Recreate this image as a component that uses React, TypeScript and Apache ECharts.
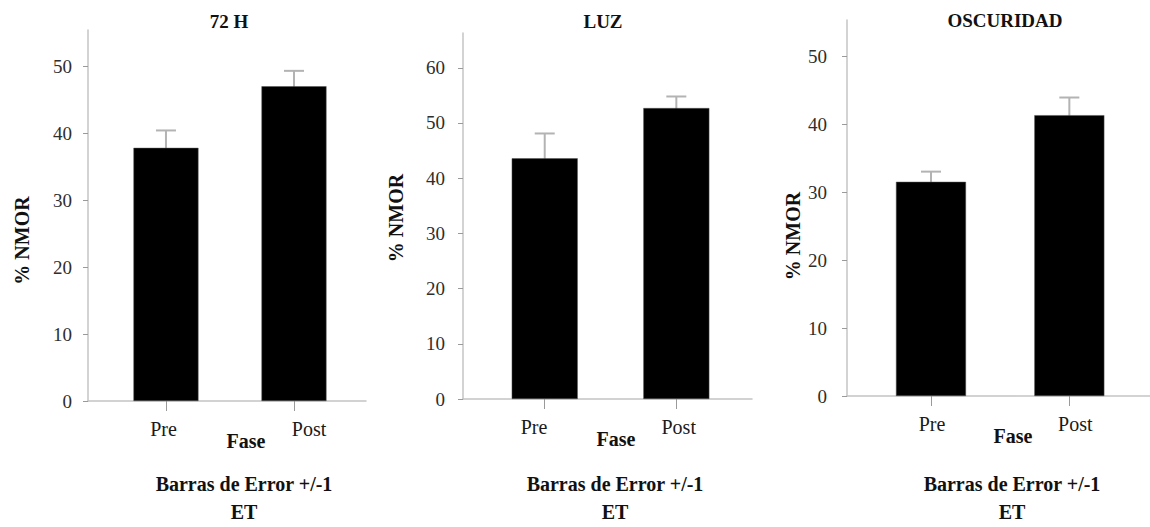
import React, { useEffect, useRef } from "react";
import * as echarts from "echarts";

// Data: mean % NMOR per phase, with +/-1 standard error (ET)
const panelTitles = ["72 H", "LUZ", "OSCURIDAD"];
const categories = ["Pre", "Post"];
const means72h = [37.8, 47.0];
const se72h = [2.6, 2.3];
const meansLuz = [43.6, 52.7];
const seLuz = [4.5, 2.1];
const meansOscuridad = [31.5, 41.3];
const seOscuridad = [1.5, 2.6];
const ticks72h = [0, 10, 20, 30, 40, 50];
const ticksLuz = [0, 10, 20, 30, 40, 50, 60];
const ticksOscuridad = [0, 10, 20, 30, 40, 50];
const yAxisName = "% NMOR";
const xAxisName = "Fase";
const footnote = "Barras de Error +/-1\nET";

const FONT = "'Liberation Serif', 'Times New Roman', serif";
const AXIS_GRAY = "#c4c4c4";
const TICK_GRAY = "#9a9a9a";
const ERR_GRAY = "#b3b3b3";

// Panel layout (pixels) and per-panel axis extents
const panels = [
  {
    means: means72h, se: se72h, ticks: ticks72h, yMax: 55.4,
    left: 88, top: 30, width: 278, height: 371,
    xMin: -0.609, xMax: 1.5625, barWidth: 65,
    labelShift: [-2.5, 15], nameGap: 56, nameShift: 25, faseShift: 19,
    labelMargin: 16, titleX: 229, titleY: 22, footX: 244,
  },
  {
    means: meansLuz, se: seLuz, ticks: ticksLuz, yMax: 66.3,
    left: 463, top: 33, width: 289, height: 366,
    xMin: -0.621, xMax: 1.575, barWidth: 66,
    labelShift: [-10.7, 2.4], nameGap: 57, nameShift: 2, faseShift: 8.5,
    labelMargin: 18, titleX: 603, titleY: 22, footX: 615,
  },
  {
    means: meansOscuridad, se: seOscuridad, ticks: ticksOscuridad, yMax: 55.3,
    left: 847, top: 20, width: 303, height: 376,
    xMin: -0.607, xMax: 1.583, barWidth: 70,
    labelShift: [1, 6], nameGap: 44, nameShift: 28, faseShift: 14.5,
    labelMargin: 20, titleX: 1005, titleY: 21, footX: 1012,
  },
];

const shiftPadding = (dx: number) =>
  dx >= 0 ? [0, 0, 0, 2 * dx] : [0, -2 * dx, 0, 0];

function buildOption() {
  const grid: any[] = [];
  const xAxis: any[] = [];
  const yAxis: any[] = [];
  const series: any[] = [];
  const title: any[] = [];

  panels.forEach((p, i) => {
    grid.push({ left: p.left, top: p.top, width: p.width, height: p.height });

    const rich: any = {};
    categories.forEach((c, k) => {
      rich["c" + k] = {
        fontFamily: FONT,
        fontSize: 20,
        color: "#1a1a1a",
        padding: shiftPadding(p.labelShift[k]),
      };
    });

    xAxis.push({
      type: "value",
      gridIndex: i,
      min: p.xMin,
      max: p.xMax,
      splitLine: { show: false },
      axisLine: { show: true, lineStyle: { color: AXIS_GRAY, width: 1.5 } },
      axisTick: {
        show: true,
        customValues: [0, 1],
        length: 10,
        lineStyle: { color: TICK_GRAY, width: 1 },
      },
      axisLabel: {
        show: true,
        customValues: [0, 1],
        margin: 18,
        formatter: (v: number) => {
          const k = Math.round(v);
          return `{c${k}|${categories[k]}}`;
        },
        rich,
      },
      name: xAxisName,
      nameLocation: "middle",
      nameGap: 30,
      nameMoveOverlap: false,
      nameTextStyle: {
        fontFamily: FONT,
        fontSize: 20,
        fontWeight: "bold",
        color: "#111",
        padding: shiftPadding(p.faseShift),
      },
    });

    yAxis.push({
      type: "value",
      gridIndex: i,
      min: 0,
      max: p.yMax,
      interval: 10,
      splitLine: { show: false },
      axisLine: { show: true, onZero: false, lineStyle: { color: AXIS_GRAY, width: 1.5 } },
      axisTick: {
        show: true,
        customValues: p.ticks,
        length: 5,
        lineStyle: { color: TICK_GRAY, width: 1 },
      },
      axisLabel: {
        show: true,
        customValues: p.ticks,
        margin: p.labelMargin,
        fontFamily: FONT,
        fontSize: 19,
        color: "#2e2e2e",
      },
      name: yAxisName,
      nameLocation: "middle",
      nameGap: p.nameGap,
      nameMoveOverlap: false,
      nameTextStyle: {
        fontFamily: FONT,
        fontSize: 20,
        fontWeight: "bold",
        color: "#111",
        padding: [0, 2 * p.nameShift, 0, 0],
      },
    });

    // error bars (+/-1 ET); the lower half is hidden behind the bar
    series.push({
      type: "custom",
      xAxisIndex: i,
      yAxisIndex: i,
      z: 1,
      encode: { x: 0, y: [1, 2] },
      data: p.means.map((m, k) => [k, m - p.se[k], m + p.se[k]]),
      renderItem: (_params: any, api: any) => {
        const x = api.value(0);
        const hi = api.coord([x, api.value(2)]);
        const lo = api.coord([x, api.value(1)]);
        const half = 10;
        const style = { stroke: ERR_GRAY, lineWidth: 2, fill: null };
        return {
          type: "group",
          children: [
            { type: "line", shape: { x1: hi[0], y1: hi[1], x2: lo[0], y2: lo[1] }, style },
            { type: "line", shape: { x1: hi[0] - half, y1: hi[1], x2: hi[0] + half, y2: hi[1] }, style },
          ],
        };
      },
    });

    series.push({
      type: "bar",
      xAxisIndex: i,
      yAxisIndex: i,
      z: 2,
      barWidth: p.barWidth,
      itemStyle: { color: "#000", borderColor: "#555", borderWidth: 0.5 },
      data: p.means.map((m, k) => [k, m]),
    });

    title.push({
      text: panelTitles[i],
      left: p.titleX,
      top: p.titleY - 10,
      textAlign: "center",
      padding: 0,
      textStyle: { fontFamily: FONT, fontSize: 19, fontWeight: "bold", color: "#111" },
    });
    title.push({
      text: footnote,
      left: p.footX,
      top: 470,
      textAlign: "center",
      padding: 0,
      textStyle: {
        fontFamily: FONT,
        fontSize: 20,
        lineHeight: 28,
        fontWeight: "bold",
        color: "#111",
      },
    });
  });

  return {
    animation: false,
    backgroundColor: "#fff",
    title,
    grid,
    xAxis,
    yAxis,
    series,
  };
}

export default function App() {
  const ref = useRef<HTMLDivElement>(null);

  useEffect(() => {
    if (!ref.current) return;
    const chart = echarts.init(ref.current, undefined, { renderer: "svg" });
    chart.setOption(buildOption() as any);
    return () => chart.dispose();
  }, []);

  return (
    <div
      ref={ref}
      style={{ position: "absolute", left: 0, top: 0, width: 1150, height: 527, background: "#fff" }}
    />
  );
}
